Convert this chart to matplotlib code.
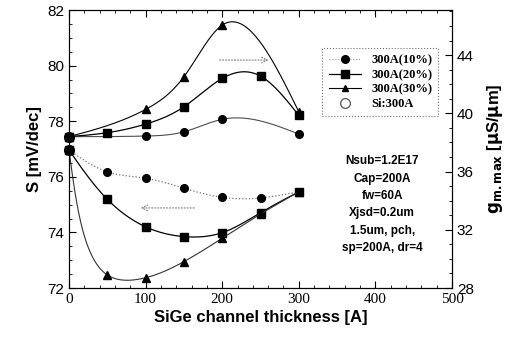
import matplotlib
matplotlib.use('Agg')
import matplotlib.pyplot as plt
from matplotlib.lines import Line2D
import numpy as np

# g_m,max curves (right axis)
gm_x10 = [0, 100, 150, 200, 300]
gm_y10 = [38.4, 38.44, 38.73, 39.59, 38.58]
gm_x20 = [0, 50, 100, 150, 200, 250, 300]
gm_y20 = [38.4, 38.67, 39.26, 40.45, 42.4, 42.56, 39.86]
gm_x30 = [0, 100, 150, 200, 300]
gm_y30 = [38.4, 40.27, 42.51, 46.06, 40.11]

# S curves (left axis)
s_x = [0, 50, 100, 150, 200, 250, 300]
s_y10 = [76.96, 76.18, 75.95, 75.59, 75.26, 75.24, 75.46]
s_y20 = [76.96, 75.19, 74.2, 73.85, 73.99, 74.71, 75.46]
s_y30 = [76.96, 72.47, 72.37, 72.95, 73.79, 74.66, 75.46]

si_x = [0]
si_s = [76.96]
si_gm = [38.4]

legend_labels = ['300A(10%)', '300A(20%)', '300A(30%)', 'Si:300A']
note = 'Nsub=1.2E17\nCap=200A\nfw=60A\nXjsd=0.2um\n1.5um, pch,\nsp=200A, dr=4'


def natural(t, v, ts):
    # natural cubic spline of v(t) evaluated at ts
    m = len(t)
    h = np.diff(t)
    A = np.zeros((m, m))
    b = np.zeros(m)
    A[0, 0] = 1
    A[-1, -1] = 1
    for i in range(1, m - 1):
        A[i, i - 1] = h[i - 1]
        A[i, i] = 2 * (h[i - 1] + h[i])
        A[i, i + 1] = h[i]
        b[i] = 3 * ((v[i + 1] - v[i]) / h[i] - (v[i] - v[i - 1]) / h[i - 1])
    c = np.linalg.solve(A, b)
    out = np.zeros(len(ts))
    for k, tv in enumerate(ts):
        i = min(np.searchsorted(t, tv, side='right') - 1, m - 2)
        d = tv - t[i]
        bi = (v[i + 1] - v[i]) / h[i] - h[i] * (2 * c[i] + c[i + 1]) / 3
        di = (c[i + 1] - c[i]) / (3 * h[i])
        out[k] = v[i] + bi * d + c[i] * d ** 2 + di * d ** 3
    return out


def spline(x, y, yscale, n=400):
    # parametric spline over chord length; yscale=0 gives a plain y(x) spline
    x = np.asarray(x, float)
    y = np.asarray(y, float)
    px = x * 0.766
    py = y * yscale
    t = np.concatenate([[0], np.cumsum(np.hypot(np.diff(px), np.diff(py)))])
    ts = np.linspace(0, t[-1], n)
    return np.maximum(natural(t, x, ts), 0), natural(t, y, ts)


fig = plt.figure(figsize=(5.18, 3.39), dpi=100)
ax = fig.add_axes([0.1332, 0.1504, 0.7394, 0.8201])
ax2 = ax.twinx()

ms = 5.5
sl = 27.8 * 0.6
# lower curves, S
xs, ys = spline(s_x, s_y10, sl)
ax.plot(xs, ys, ':', color='0.45', lw=0.9)
ax.plot(s_x, s_y10, 'o', color='k', ms=ms, clip_on=False)
xs, ys = spline(s_x, s_y20, sl)
ax.plot(xs, ys, '-', color='k', lw=0.9)
ax.plot(s_x, s_y20, 's', color='k', ms=ms, clip_on=False)
xs, ys = spline(s_x, s_y30, sl)
ax.plot(xs, ys, '-', color='0.2', lw=0.8)
ax.plot(s_x, s_y30, '^', color='k', ms=ms, clip_on=False)
ax.plot(si_x, si_s, 'o', mfc='none', mec='k', ms=7, clip_on=False)

# upper curves, gm
xs, ys = spline(gm_x10, gm_y10, 0)
ax2.plot(xs, ys, '-', color='0.3', lw=0.8)
ax2.plot(gm_x10, gm_y10, 'o', color='k', ms=ms, clip_on=False)
xs, ys = spline(gm_x20, gm_y20, 0)
ax2.plot(xs, ys, '-', color='k', lw=0.9)
ax2.plot(gm_x20, gm_y20, 's', color='k', ms=ms, clip_on=False)
xs, ys = spline(gm_x30, gm_y30, 0)
ax2.plot(xs, ys, '-', color='k', lw=0.8)
ax2.plot(gm_x30, gm_y30, '^', color='k', ms=ms, clip_on=False)
ax2.plot(si_x, si_gm, 'o', mfc='none', mec='k', ms=7, clip_on=False)

ax.set_xlim(0, 500)
ax.set_ylim(72, 82)
ax2.set_ylim(28, 47.1)

ax.set_xticks(np.arange(0, 501, 100))
ax.set_xticks(np.arange(0, 501, 20), minor=True)
ax.set_yticks(np.arange(72, 83, 2))
ax.set_yticks(np.arange(72, 82.1, 0.5), minor=True)
ax2.set_yticks([28, 32, 36, 40, 44])
ax2.set_yticks(np.arange(28, 47.1, 1), minor=True)

ax.tick_params(which='both', direction='in', top=True, right=False)
ax.tick_params(which='major', length=5, width=0.8)
ax.tick_params(which='minor', length=2.5, width=0.6)
ax2.tick_params(which='both', direction='in')
ax2.tick_params(which='major', length=5, width=0.8)
ax2.tick_params(which='minor', length=2.5, width=0.6)

for lab in ax.get_xticklabels():
    lab.set_fontfamily('Liberation Serif')
    lab.set_fontsize(11)
for lab in ax.get_yticklabels() + ax2.get_yticklabels():
    lab.set_fontfamily('Liberation Sans')
    lab.set_fontsize(11)

ax.set_xlabel('SiGe channel thickness [A]', fontsize=12, fontweight='bold',
              family='Liberation Sans', labelpad=3)
ax.set_ylabel('S [mV/dec]', fontsize=12, fontweight='bold',
              family='Liberation Sans', labelpad=4)
ax2.set_ylabel(r'$\mathbf{g_{m.max}}$ [$\mathbf{\mu}$S/$\mathbf{\mu}$m]', fontsize=12,
               fontweight='bold', family='Liberation Sans', rotation=90, labelpad=8)

# arrows
ax2.annotate('', xy=(264, 43.66), xytext=(193, 43.66),
             arrowprops=dict(arrowstyle='->', color='0.5', lw=0.8, ls=':'))
ax.annotate('', xy=(90, 74.88), xytext=(167, 74.88),
            arrowprops=dict(arrowstyle='->', color='0.5', lw=0.8, ls=':'))

# legend
handles = [
    Line2D([], [], color='0.6', ls=':', lw=0.8, marker='o', ms=ms, mfc='k', mec='k'),
    Line2D([], [], color='k', ls='-', lw=0.9, marker='s', ms=ms, mfc='k', mec='k'),
    Line2D([], [], color='k', ls='-', lw=0.8, marker='^', ms=ms - 1, mfc='k', mec='k'),
    Line2D([], [], ls='none', marker='o', ms=7, mfc='none', mec='0.4'),
]
leg = ax.legend(handles, legend_labels, loc='upper left', bbox_to_anchor=(0.645, 0.885),
                prop={'family': 'Liberation Serif', 'weight': 'bold', 'size': 9},
                frameon=True, fancybox=False, edgecolor='0.3', handlelength=2.6,
                borderpad=0.5, labelspacing=0.2, handletextpad=0.8)
leg.get_frame().set_linestyle(':')
leg.get_frame().set_linewidth(0.8)

ax.text(0.818, 0.30, note, transform=ax.transAxes, ha='center', va='center',
        fontsize=8.5, fontweight='bold', family='Liberation Sans', linespacing=1.6)

fig.savefig('out.png', dpi=100)
